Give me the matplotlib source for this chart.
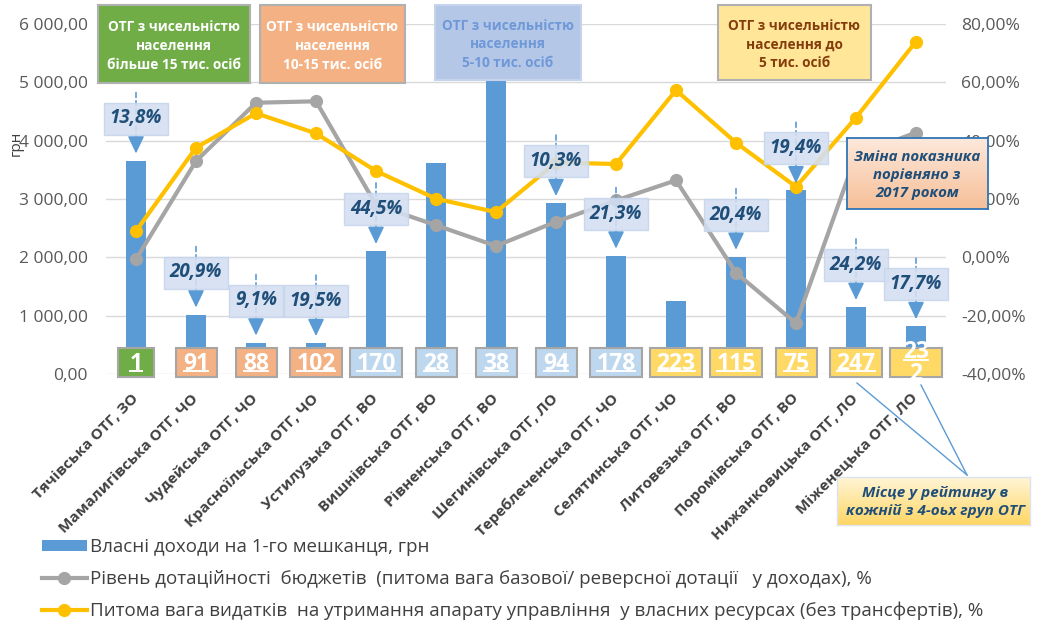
import matplotlib
matplotlib.use('Agg')
import matplotlib.pyplot as plt
import numpy as np
from matplotlib.patches import Rectangle
from matplotlib.lines import Line2D
from matplotlib.ticker import FuncFormatter, MultipleLocator
from matplotlib.colors import LinearSegmentedColormap
import matplotlib.transforms as mtransforms

# ---------------- data ----------------
categories = ['Тячівська ОТГ, ЗО', 'Мамалигівська ОТГ, ЧО', 'Чудейська ОТГ, ЧО',
              'Красноїльська ОТГ, ЧО', 'Устилузька ОТГ, ВО', 'Вишнівська ОТГ, ВО',
              'Рівненська ОТГ, ВО', 'Шегинівська ОТГ, ЛО', 'Тереблеченська ОТГ, ЧО',
              'Селятинська ОТГ, ЧО', 'Литовезька ОТГ, ВО', 'Поромівська ОТГ, ВО',
              'Нижанковицька ОТГ, ЛО', 'Міженецька ОТГ, ЛО']
income = [3660, 1020, 540, 530, 2110, 3610, 5300, 2930, 2030, 1250, 2010, 3150, 1150, 820]
subsidy = [-0.7, 33.0, 53.0, 53.5, 18.0, 11.0, 3.9, 12.2, 19.5, 26.4, -5.3, -22.6, 35.0, 42.8]
admin = [9.0, 37.6, 49.4, 42.5, 29.6, 20.1, 15.5, 32.5, 32.0, 57.3, 39.3, 24.2, 47.9, 74.0]
change_labels = ['13,8%', '20,9%', '9,1%', '19,5%', '44,5%', None, None, '10,3%', '21,3%',
                 None, '20,4%', '19,4%', '24,2%', '17,7%']
ranks = [1, 91, 88, 102, 170, 28, 38, 94, 178, 223, 115, 75, 247, 232]
rank_groups = [0, 1, 1, 1, 2, 2, 2, 2, 2, 3, 3, 3, 3, 3]
group_colors = ['#70ad47', '#f4b183', '#bdd7ee', '#ffd966']
group_titles = ['ОТГ з чисельністю\nнаселення\nбільше 15 тис. осіб',
                'ОТГ з чисельністю\nнаселення\n10-15 тис. осіб',
                'ОТГ з чисельністю\nнаселення\n5-10 тис. осіб',
                'ОТГ з чисельністю\nнаселення до\n5 тис. осіб']
legend_labels = ['Власні доходи на 1-го мешканця, грн',
                 'Рівень дотаційності  бюджетів  (питома вага базової/ реверсної дотації   у доходах), %',
                 'Питома вага видатків  на утримання апарату управління  у власних ресурсах (без трансфертів), %']

plt.rcParams['font.family'] = ['Open Sans', 'DejaVu Sans']

W, H = 1037, 623
fig = plt.figure(figsize=(W / 100, H / 100), dpi=100)
def fx(x): return x / W
def fy(y): return 1 - y / H

ax = fig.add_axes([fx(106), fy(374), (946 - 106) / W, (374 - 24) / H])
ax2 = ax.twinx()

x = np.arange(len(categories))
bars = ax.bar(x, income, width=0.32, color='#5b9bd5', zorder=2)
ax.set_ylim(0, 6000)
ax.set_xlim(-0.5, len(categories) - 0.5)
ax.yaxis.set_major_locator(MultipleLocator(1000))
ax.yaxis.set_major_formatter(FuncFormatter(lambda v, p: f'{v:,.2f}'.replace(',', ' ').replace('.', ',')))
ax.grid(axis='y', color='#d9d9d9', lw=1, zorder=0)
ax.set_axisbelow(True)
for s in ax.spines.values():
    s.set_visible(False)
for s in ax2.spines.values():
    s.set_visible(False)
ax.tick_params(axis='y', length=0, pad=13, labelsize=12.5, labelcolor='#595959')
ax.set_xticks(x)
ax.set_xticklabels(categories, rotation=45, ha='right', va='center', rotation_mode='anchor',
                   fontweight='bold', color='#404040', fontsize=11)
ax.tick_params(axis='x', length=0, pad=16)
ax.set_ylabel('грн', fontsize=11, color='#404040')
ax.yaxis.set_label_coords(-0.098, 0.66)

line_g, = ax2.plot(x, subsidy, color='#a5a5a5', lw=3, marker='o', ms=8.5, zorder=3)
line_y, = ax2.plot(x, admin, color='#ffc000', lw=3, marker='o', ms=8.5, zorder=4)
ax2.set_ylim(-40, 80)
ax2.yaxis.set_major_locator(MultipleLocator(20))
ax2.yaxis.set_major_formatter(FuncFormatter(lambda v, p: f'{v:.2f}'.replace('.', ',') + '%'))
ax2.tick_params(axis='y', length=0, pad=11, labelsize=12.5, labelcolor='#595959')

# ------------- callouts (change vs 2017) -------------
pt = 0.72
for i, (v, lab) in enumerate(zip(income, change_labels)):
    if lab is None:
        continue
    ax2.annotate('', xy=(i, v), xycoords=ax.transData, xytext=(0, 68 * pt), textcoords='offset points',
                 arrowprops=dict(arrowstyle='-', linestyle=(0, (3, 2)), color='#5b9bd5', lw=1.2,
                                 shrinkA=0, shrinkB=22 * pt), zorder=5)
    ax2.annotate('', xy=(i, v), xycoords=ax.transData, xytext=(0, 22 * pt), textcoords='offset points',
                 arrowprops=dict(arrowstyle='-|>,head_length=1.05,head_width=0.5', color='#5b9bd5', lw=1.2,
                                 shrinkA=0, shrinkB=7 * pt, mutation_scale=10), zorder=5)
    ax2.annotate(lab, xy=(i, v), xycoords=ax.transData, xytext=(0, 42 * pt), textcoords='offset points',
                 ha='center', va='center', fontsize=13.5, fontweight='bold', fontstyle='italic',
                 color='#1f4e79', zorder=6,
                 bbox=dict(boxstyle='square,pad=0.32', fc='#d3dff2', ec='#c6d5ec', lw=1, alpha=0.88))

# ------------- rank boxes -------------
btr = mtransforms.blended_transform_factory(ax2.transData, ax2.transAxes)
rank_texts = []
rfs = 16.5
for i, (r, g) in enumerate(zip(ranks, rank_groups)):
    s = str(r)
    wpx = 36 if len(s) == 1 else (41 if len(s) == 2 else 52)
    wdat = wpx / 60.0
    rect = Rectangle((i - wdat / 2, -3 / 350), wdat, 29 / 350, transform=btr, facecolor=group_colors[g],
                     edgecolor='#a6a6a6', lw=1.5, clip_on=False, zorder=7)
    ax2.add_patch(rect)
    lines = [s] if i != len(ranks) - 1 else [s[:2], s[2:]]
    ctr = 10.5 / 350
    offs = [0] if len(lines) == 1 else [11 / 350, -11 / 350]
    for ln, o in zip(lines, offs):
        t = ax2.text(i, ctr + o, ln, transform=btr, ha='center', va='center', fontsize=rfs,
                     fontweight='bold', color='white', zorder=8, clip_on=False)
        rank_texts.append(t)

# ------------- group header boxes -------------
hdr = [(98, 5, 250, 83, 'white'), (260, 5, 405, 83, 'white'),
       (435, 5, 581, 80, '#6f98d8'), (718, 5, 871, 80, '#843c0c')]
for (x0, y0, x1, y1, tc), fc, title in zip(hdr, group_colors[:1] + ['#f4b183', '#b4c7e7', '#ffe699'], group_titles):
    fig.add_artist(Rectangle((fx(x0), fy(y1)), (x1 - x0) / W, (y1 - y0) / H, transform=fig.transFigure,
                             facecolor=fc, edgecolor='#b0b0b0' if tc != '#6f98d8' else '#c5d3ec',
                             lw=1.5, zorder=4))
    fig.text(fx((x0 + x1) / 2), fy((y0 + y1) / 2 + 2), title, ha='center', va='center', fontsize=9.8,
             fontweight='bold', color=tc, linespacing=1.45, zorder=5)

# ------------- gradient note boxes -------------
def grad_box(x0, y0, x1, y1, ctop, cbot, edge, lw, z):
    a = fig.add_axes([fx(x0), fy(y1), (x1 - x0) / W, (y1 - y0) / H], zorder=z)
    cmap = LinearSegmentedColormap.from_list('g', [ctop, cbot])
    a.imshow(np.linspace(0, 1, 64)[:, None], aspect='auto', cmap=cmap, extent=[0, 1, 0, 1])
    a.set_xticks([]); a.set_yticks([])
    for s in a.spines.values():
        s.set_color(edge); s.set_linewidth(lw)
    return a

grad_box(847, 138, 988, 209, '#fde9dc', '#f6bf98', '#2e75b6', 1.3, 3)
fig.text(fx(917), fy(175), 'Зміна показника\nпорівняно з\n2017 роком', ha='center', va='center',
         fontsize=10.8, fontweight='bold', fontstyle='italic', color='#1f4e79', linespacing=1.4, zorder=6)

grad_box(837, 477, 1030, 525, '#fff5d6', '#ffd766', '#dde3ee', 1.0, 3)
fig.text(fx(935), fy(502), 'Місце у рейтингу в\nкожній з 4-оьх груп ОТГ', ha='center', va='center',
         fontsize=11, fontweight='bold', fontstyle='italic', color='#1f4e79', linespacing=1.3, zorder=6)
for (sx, sy) in [(857, 383), (921, 385)]:
    fig.add_artist(Line2D([fx(sx), fx(967)], [fy(sy), fy(475)], transform=fig.transFigure,
                          color='#5b9bd5', lw=1, zorder=6))

# ------------- legend -------------
fs = 13.5
fpx = fs * 1.389
fig.legend([bars, line_g, line_y], legend_labels, loc='upper left', bbox_to_anchor=(fx(42), fy(538)),
           frameon=False, fontsize=fs, borderpad=0, borderaxespad=0, handlelength=45 / fpx,
           handletextpad=3 / fpx, labelspacing=0.72, handleheight=0.5,
           labelcolor='#404040')

# ------------- underline rank numbers -------------
fig.canvas.draw()
rend = fig.canvas.get_renderer()
for t in rank_texts:
    bb = t.get_window_extent(rend)
    yline = bb.y0 + 0.2 * rfs * 1.389
    fig.add_artist(Line2D([bb.x0 + 1, bb.x1 - 1], [yline, yline], transform=None, color='white',
                          lw=1.4, zorder=9))

fig.savefig('out.png', dpi=100)
